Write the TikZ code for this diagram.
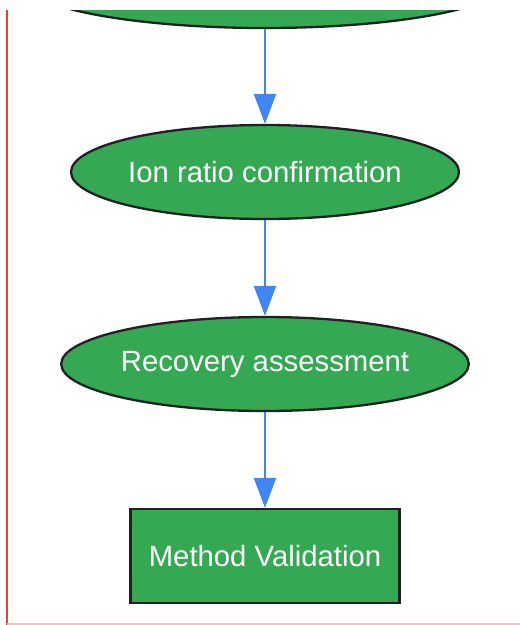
\documentclass[tikz,border=0pt]{standalone}
\usepackage{fontspec}
\setmainfont{Liberation Sans}
\usetikzlibrary{shapes.geometric,arrows.meta}
\definecolor{stepgreen}{HTML}{34A853}
\definecolor{linkblue}{HTML}{4285F4}
\definecolor{edgered}{HTML}{EA4335}
\definecolor{edgepink}{HTML}{F9C0BA}
\definecolor{darkline}{HTML}{202124}
\tikzset{
 oval/.style={ellipse,draw=darkline,line width=2.3pt,fill=stepgreen,text=white,
  font=\fontsize{29.3}{35}\selectfont,inner sep=0pt,minimum height=94pt},
 box/.style={rectangle,draw=darkline,line width=2.3pt,fill=stepgreen,text=white,
  font=\fontsize{29.3}{35}\selectfont,inner sep=0pt,minimum width=269pt,minimum height=94pt},
 flow/.style={-{Triangle[width=22pt,length=30pt]},linkblue,line width=2.5pt},
}
\begin{document}
\begin{tikzpicture}[x=1pt,y=-1pt]
 \useasboundingbox (0,0) rectangle (520,625);
 \begin{scope}
 \clip (0,10) rectangle (520,625);
 \draw[edgered,line width=2.3pt] (7,10)--(7,625);
 \draw[edgepink,line width=1.2pt] (7,624)--(520,624);
 \path
 (265,-19) node[oval,minimum width=486pt] (prev) {} % <<< cut off at the top
 ++(0,191) node[oval,minimum width=388pt] (ion) {Ion ratio confirmation}
 ++(0,192) node[oval,minimum width=406pt] (rec) {Recovery assessment}
 ++(0,192) node[box] (valid) {Method Validation};
 \draw[flow] (prev)--(ion);
 \draw[flow] (ion)--(rec);
 \draw[flow] (rec)--(valid);
 \end{scope}
\end{tikzpicture}
\end{document}
